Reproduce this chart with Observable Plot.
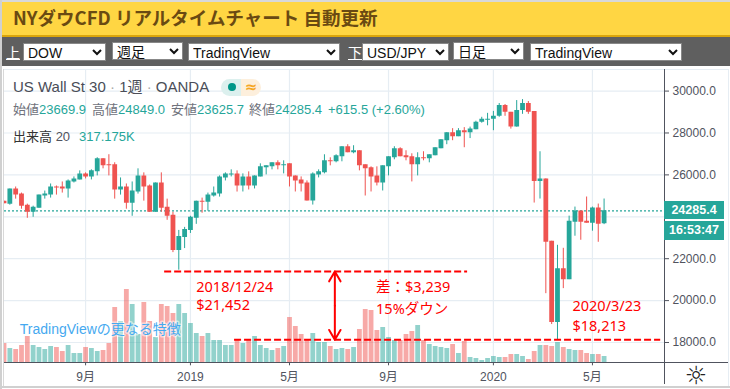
<!DOCTYPE html>
<html lang="ja">
<head>
<meta charset="utf-8">
<script src="https://cdn.jsdelivr.net/npm/d3@7"></script>
<script src="https://cdn.jsdelivr.net/npm/@observablehq/plot@0.6"></script>
<style>
html,body{margin:0;padding:0;background:#fff}
#page{position:relative;width:730px;height:389px;overflow:hidden;font-family:"Liberation Sans","Noto Sans CJK JP",sans-serif;background:#fff}
#page *{box-sizing:border-box}
.abs{position:absolute;white-space:nowrap}
#band{left:0;top:0;width:730px;height:37px;background:#ffd643;border-top:2px solid #d8d8d8;border-bottom:2px solid #dba60c;color:#6a4a12;font:bold 18.5px "Noto Sans CJK JP","Liberation Sans",sans-serif;line-height:31px;padding-left:13px}
#bar{left:0;top:37px;width:730px;height:29px;background:#5f5f5f}
.lab{color:#fff;font-size:14px;text-decoration:underline;top:44px;line-height:16px;font-family:"Noto Sans CJK JP",sans-serif}
select{position:absolute;height:18px;top:43px;font:14px "Liberation Sans","Noto Sans CJK JP",sans-serif;background:#fff;color:#111;border:1px solid #888;padding:0;border-radius:0}
select.up{top:42px}
#chart{position:absolute;left:0;top:68px}
.leg{color:#6f727c;font-size:13px;line-height:16px}
.val{color:#26a69a}
.box{background:#26a69a;color:#fff;font:bold 12.5px "Liberation Sans",sans-serif;text-align:center;left:664px;width:60px}
</style>
</head>
<body>
<div id="page">
  <div class="abs" id="band">NYダウCFD リアルタイムチャート 自動更新</div>
  <div class="abs" id="bar"></div>
  <div class="abs lab" style="left:6px">上</div>
  <select style="left:23px;width:83px"><option>DOW</option></select>
  <select class="up" style="left:112px;width:71px"><option>週足</option></select>
  <select style="left:188px;width:152px"><option>TradingView</option></select>
  <div class="abs lab" style="left:348px">下</div>
  <select style="left:362px;width:87px"><option>USD/JPY</option></select>
  <select class="up" style="left:453px;width:71px"><option>日足</option></select>
  <select style="left:530px;width:152px"><option>TradingView</option></select>
  <div id="chart"></div>

  <div class="abs" style="left:3px;top:69px;width:1px;height:317px;background:#d8d8d8"></div>
  <div class="abs" style="left:0;top:0;width:2px;height:389px;background:#d0d0d0"></div>
  <div class="abs" style="left:4px;top:69px;width:724px;height:1px;background:#e6edf3"></div>
  <div class="abs" style="left:664px;top:69px;width:1px;height:315px;background:#50535e"></div>
  <div class="abs" style="left:4px;top:362px;width:724px;height:1px;background:#50535e"></div>
  <div class="abs" style="left:0;top:386px;width:730px;height:2px;background:#d0d0d0"></div>
  <div class="abs" style="left:728px;top:69px;width:1px;height:317px;background:#e6edf3"></div>

  <div class="abs leg" style="left:13px;top:79px;font-size:15px;color:#4a4d57">US Wall St 30 <span style="color:#aaa">·</span> 1週 <span style="color:#aaa">·</span> OANDA</div>
  <div class="abs" style="left:221px;top:79px;width:20px;height:17px;background:#dcf0ee;border-radius:9px 0 0 9px"></div>
  <div class="abs" style="left:241px;top:79px;width:20px;height:17px;background:#fdefdc;border-radius:0 9px 9px 0;color:#f5a623;font:bold 15px/16px 'DejaVu Sans';text-align:center">≈</div>
  <div class="abs" style="left:228px;top:83px;width:8px;height:8px;background:#009688;border-radius:50%"></div>

  <div class="abs leg" style="left:13px;top:102px">始値<span class="val">23669.9</span></div>
  <div class="abs leg" style="left:92px;top:102px">高値<span class="val">24849.0</span></div>
  <div class="abs leg" style="left:171px;top:102px">安値<span class="val">23625.7</span></div>
  <div class="abs leg" style="left:249px;top:102px">終値<span class="val">24285.4</span></div>
  <div class="abs leg val" style="left:328px;top:102px">+615.5 (+2.60%)</div>
  <div class="abs leg" style="left:13px;top:129px;color:#333">出来高 <span style="color:#50535e">20</span></div>
  <div class="abs leg val" style="left:79px;top:129px">317.175K</div>

  <div class="abs box" style="top:201px;height:18px;line-height:18px">24285.4</div>
  <div class="abs box" style="top:221px;height:19px;line-height:19px">16:53:47</div>
  <div class="abs" style="left:683px;top:363px;width:26px;font:25px/26px 'DejaVu Sans';color:#222;text-align:center">☼</div>
</div>
<script>
const firstWeek = "2018-05-28";
const opens = [24747,24603,25325,25084,24554,24217,24410,24988,25036,25422,25422,25325,25662,25759,26048,25903,26144,26771,26481,26481,25277,25422,24651,25181,25952,25470,24217,25614,24458,24072,22386,23013,23350,23928,24747,24699,24988,25084,25855,26000,26048,25472,25904,25472,25904,26336,26384,26576,26432,26528,25952,25760,25616,24752,26000,26096,26672,26624,26864,27344,27056,27152,26480,26336,25952,25616,26384,26816,27248,26912,26864,26480,26816,26768,26912,27248,27632,28016,27824,28112,28015,28155,28515,28609,28655,28796,29312,28984,28280,29078,29406,29024,25680,25808,22832,18952,21523,21000,23744,24272,23792,23696,24416,23669.9];
const closes = [24619,25325,25036,24506,24217,24458,25036,25084,25422,25373,25325,25711,25807,26048,25903,26192,26771,26433,26433,25277,25422,24651,25229,25952,25422,24217,25614,24410,24024,22386,23061,23398,23976,24747,24699,25036,25132,25903,26048,26048,25470,25904,25472,25952,26384,26432,26576,26432,26480,25904,25712,25568,24752,26048,26144,26672,26624,26912,27344,27056,27152,26432,26288,25904,25616,26432,26864,27248,26864,26816,26480,26816,26768,26960,27296,27680,28016,27824,28112,28016,28187,28515,28655,28655,28796,29312,28984,28280,29078,29406,28984,25680,25808,22784,18952,21523,21000,23792,24272,23744,23696,24416,23648,24285.4];
const highs = [24747,25325,25422,25132,24603,24506,25036,25229,25566,25470,25662,25759,25903,26192,26096,26241,26819,26771,26963,26578,25855,25566,25662,26289,26096,25518,25614,26096,24843,24217,23350,23494,24024,24747,24892,25132,25422,25952,26096,26241,26192,26048,26144,25952,26528,26432,26576,26672,26672,26528,25952,25904,25712,26096,26240,26960,26816,26960,27344,27440,27392,27152,26480,26384,26384,26432,26864,27344,27296,27152,27008,27056,27104,26960,27296,27680,28016,28208,28208,28256,28281,28562,28749,28937,29031,29406,29359,28984,29547,29593,29500,29024,27104,25808,22832,22640,22496,24032,24464,24272,24944,24464,24608,24849];
const lows = [24619,24554,24843,24362,23928,23976,24410,24843,24892,25036,25132,24892,25614,25759,25807,25759,25952,26289,25952,24843,25036,24362,24024,25084,24747,24217,24217,24217,23832,22290,21452,22483,23205,23639,24169,24265,24940,24940,25711,25903,25181,25184,25280,25328,25904,26000,26240,26240,26048,25424,25184,25184,24752,24560,25856,26048,26432,26576,26624,27056,27008,26192,24992,25184,25472,25232,25952,26720,26864,26672,25664,25952,26672,26576,26912,27248,27440,27632,27824,27296,27733,28155,28468,28343,28109,28749,28796,28187,28280,28890,28890,24656,24848,20330,18857,18120,20571,21000,23072,22880,23696,23312,22784,23625.7];
const volumes = [969,718,668,868,1319,868,768,668,818,768,568,868,468,468,768,718,568,618,969,2772,2071,3674,2923,1420,3023,2071,1269,2923,2822,2472,2923,2472,1971,1470,1319,1470,1119,1119,868,868,1119,969,1169,1319,868,718,618,718,818,2271,1820,1420,1119,1470,1019,1019,818,668,718,668,768,1670,2672,2622,1620,1770,1269,1119,1119,1420,1570,1870,1119,919,818,768,718,919,468,1069,267,217,117,217,317,267,267,418,418,317,167,568,868,868,818,1019,768,668,618,618,468,418,418,317.175];

const tickDates = ["2018-09-03","2019-01-07","2019-05-06","2019-09-02","2020-01-06","2020-05-04"].map(d => new Date(d));
const tickLabels = ["9月","2019","5月","9月","2020","5月"];
const gridPrices = [18000,20000,22000,24000,26000,28000,30000];
const axisPrices = [18000,20000,22000,26000,28000,30000]; // 24000.0 sits behind the last-price tag

const lastPrice = 24285.4;
const lowLevel2018 = 21389;
const lowLevel2020 = 18129;
const annotations = [
  {date:"2019-01-14", price:20650, text:"2018/12/24"},
  {date:"2019-01-14", price:19770, text:"$21,452"},
  {date:"2019-08-18", price:20620, text:"差：$3,239"},
  {date:"2019-08-18", price:19590, text:"15%ダウン"},
  {date:"2020-04-10", price:19740, text:"2020/3/23"},
  {date:"2020-04-10", price:18780, text:"$18,213"}
].map(d => ({...d, date:new Date(d.date)}));

const GREEN = "#26a69a", RED = "#ef5350", GRID = "#e6edf3";
const WEEK = 7 * 864e5;
const rows = opens.map((o,i) => ({
  date:new Date(+new Date(firstWeek) + i * WEEK),
  open:o, close:closes[i], high:highs[i], low:lows[i], volume:volumes[i],
  color: closes[i] >= o ? GREEN : RED
}));

const priceFloor = 17031;                 // price at the volume pane's baseline
const volumeY = v => priceFloor + v * 0.953; // volume drawn in the shared y scale

const chart = Plot.plot({
  width:730, height:321,
  marginLeft:4, marginRight:66, marginTop:1, marginBottom:26.7,
  style:{background:"transparent", fontFamily:'"Liberation Sans","Noto Sans CJK JP",sans-serif', fontSize:"12px", color:"#50535e"},
  x:{type:"utc", domain:[new Date("2018-05-28T14:00Z"), new Date("2020-07-29T14:00Z")]},
  y:{type:"linear", domain:[priceFloor, 31030]},
  color:{type:"identity"},
  marks:[
    Plot.gridX(tickDates,{stroke:GRID, strokeOpacity:1, strokeWidth:1.2}),
    Plot.gridY(gridPrices,{stroke:GRID, strokeOpacity:1, strokeWidth:1.2}),
    Plot.axisX({ticks:tickDates, tickFormat:d => tickLabels[tickDates.findIndex(t => +t === +d)], tickSize:3, tickPadding:7, label:null, anchor:"bottom", fontSize:12, fill:"#50535e", stroke:"#50535e"}),
    Plot.axisY({ticks:axisPrices, tickFormat:d => d.toFixed(1), anchor:"right", tickSize:4, tickPadding:4, label:null, fontSize:12, fill:"#50535e", stroke:"#50535e"}),
    Plot.ruleX(rows,{x:"date", y1:() => priceFloor, y2:d => volumeY(d.volume), stroke:"color", strokeWidth:4.8, strokeOpacity:.5, clip:true}),
    Plot.ruleY([lastPrice],{stroke:GREEN, strokeDasharray:"2 2", strokeWidth:1.3}),
    Plot.ruleX(rows,{x:"date", y1:"low", y2:"high", stroke:"color", strokeWidth:1, clip:true}),
    Plot.ruleX(rows,{x:"date", y1:"open", y2:"close", stroke:"color", strokeWidth:4.8, clip:true}),
    Plot.ruleY([lowLevel2018],{x1:new Date("2018-12-07"), x2:new Date("2019-12-06"), stroke:"#f00", strokeWidth:2, strokeDasharray:"7 3"}),
    Plot.ruleY([lowLevel2020],{x1:new Date("2019-03-01"), x2:new Date("2020-07-25"), stroke:"#f00", strokeWidth:2, strokeDasharray:"7 3"}),
    Plot.arrow([{p:lowLevel2018},{p:lowLevel2020}],{
      x1:() => new Date("2019-06-29T12:00Z"), x2:() => new Date("2019-06-29T12:00Z"),
      y1:() => (lowLevel2018 + lowLevel2020) / 2, y2:"p",
      stroke:"#f00", strokeWidth:2, headLength:20, headAngle:60, insetStart:0, insetEnd:0
    }),
    Plot.text(annotations,{x:"date", y:"price", text:"text", textAnchor:"start", fill:"#f00", fontSize:14.5, fontFamily:'"Noto Sans","Noto Sans CJK JP",sans-serif', lineAnchor:"middle"}),
    Plot.text(["TradingViewの更なる特徴"],{x:() => new Date("2018-06-16"), y:() => 18610, text:d => d, textAnchor:"start", fill:"#45a9f0", fontSize:14, stroke:"#fff", strokeOpacity:.55, strokeWidth:3, lineAnchor:"middle"})
  ]
});
document.getElementById("chart").appendChild(chart);
</script>
</body>
</html>
